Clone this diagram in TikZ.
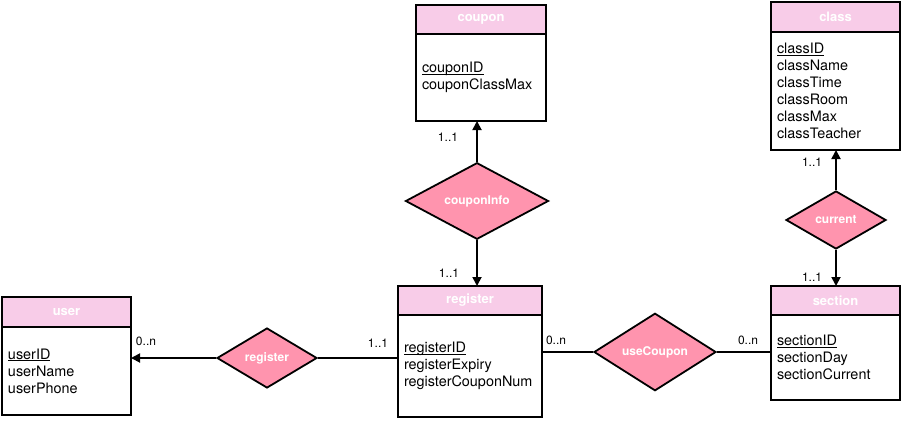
\documentclass[tikz,border=0pt]{standalone}
\usepackage{fontspec}
\setmainfont{TeX Gyre Heros}
\usetikzlibrary{positioning,shapes.geometric,arrows.meta}
\definecolor{headPink}{HTML}{F8CCE8}
\definecolor{relPink}{HTML}{FF94AE}
\newcommand\keyattr[1]{\setbox0\hbox{#1}\rlap{\rule[-2.3pt]{\wd0}{1.1pt}}\box0}
\tikzset{
	entTitle/.style={draw,line width=1.8pt,fill=headPink,text=white,outer sep=0pt,inner sep=0pt,
		minimum height=29pt,font=\fontsize{13}{15}\selectfont\bfseries},
	entBody/.style={draw,line width=1.8pt,fill=white,outer sep=0pt,inner xsep=6pt,inner ysep=0pt,
		align=left,anchor=north,font=\fontsize{14.4}{17}\selectfont},
	relShape/.style={diamond,draw,line width=1.8pt,fill=relPink,text=white,inner sep=0pt,
		font=\fontsize{12}{14}\selectfont\bfseries},
	card/.style={font=\fontsize{12}{14}\selectfont,inner sep=0pt},
	link/.style={line width=1.8pt},
	toEnt/.style={link,-{Triangle[length=9pt,width=9pt]}}
}
\begin{document}
\begin{tikzpicture}[x=1pt,y=-1pt]
	\useasboundingbox (0,0) rectangle (904,420);

	% entities
	\node [entTitle,minimum width=130pt] (couponTitle) at (481,19.5) {coupon};
	\node [entBody,minimum width=130pt,minimum height=87pt,text width=118pt] (coupon) at (couponTitle.south)
		{\keyattr{couponID}\\couponClassMax};

	\node [entTitle,minimum width=129pt,minimum height=30pt] (classTitle) at (835.5,17) {class};
	\node [entBody,minimum width=129pt,minimum height=118pt,text width=117pt] (class) at (classTitle.south)
		{\keyattr{classID}\\className\\classTime\\classRoom\\classMax\\classTeacher};

	\node [entTitle,minimum width=129pt] (sectionTitle) at (835.5,300.5) {section};
	\node [entBody,minimum width=129pt,minimum height=85pt,text width=117pt] (section) at (sectionTitle.south)
		{\keyattr{sectionID}\\sectionDay\\sectionCurrent};

	\node [entTitle,minimum width=144pt] (registerTitle) at (470,300.5) {register};
	\node [entBody,minimum width=144pt,minimum height=102pt,text width=132pt] (register) at (registerTitle.south)
		{\keyattr{registerID}\\registerExpiry\\registerCouponNum};

	\node [entTitle,minimum width=129pt,minimum height=30pt] (userTitle) at (66.5,312) {user};
	\node [entBody,minimum width=129pt,minimum height=88pt,text width=117pt] (user) at (userTitle.south)
		{\keyattr{userID}\\userName\\userPhone};

	% relationships
	\node [relShape,minimum width=143pt,minimum height=59pt] (relCouponInfo) at (477,201) {couponInfo};
	\node [relShape,minimum width=100pt,minimum height=58pt] (relCurrent) at (836,220) {current};
	\node [relShape,minimum width=100pt,minimum height=60pt] (relRegister) at (267,358) {register};
	\node [relShape,minimum width=122pt,minimum height=60pt] (relUseCoupon) at (655,352) {useCoupon};

	\draw [toEnt] (relCouponInfo.north) -- (relCouponInfo.north |- coupon.south);
	\draw [toEnt] (relCouponInfo.south) -- (relCouponInfo.south |- registerTitle.north);
	\draw [toEnt] (relCurrent.north) -- (relCurrent.north |- class.south);
	\draw [toEnt] (relCurrent.south) -- (relCurrent.south |- sectionTitle.north);
	\draw [toEnt] (relRegister.west) -- (relRegister.west -| user.east);
	\draw [link] (relRegister.east) -- (relRegister.east -| register.west);
	\draw [link] (relUseCoupon.west) -- (relUseCoupon.west -| register.east);
	\draw [link] (relUseCoupon.east) -- (relUseCoupon.east -| section.west);

	% cardinalities
	\node [card] (cpCoupon) at (448,137) {1..1};
	\node [card] (cpRegister) at (449,273) {1..1};
	\node [card] (crClass) at (812,162) {1..1};
	\node [card] (crSection) at (812,277) {1..1};
	\node [card] (rgUser) at (146,341) {0..n};
	\node [card] (rgRegister) at (378,343) {1..1};
	\node [card] (ucRegister) at (556,340) {0..n};
	\node [card] (ucSection) at (748,340) {0..n};
\end{tikzpicture}
\end{document}
